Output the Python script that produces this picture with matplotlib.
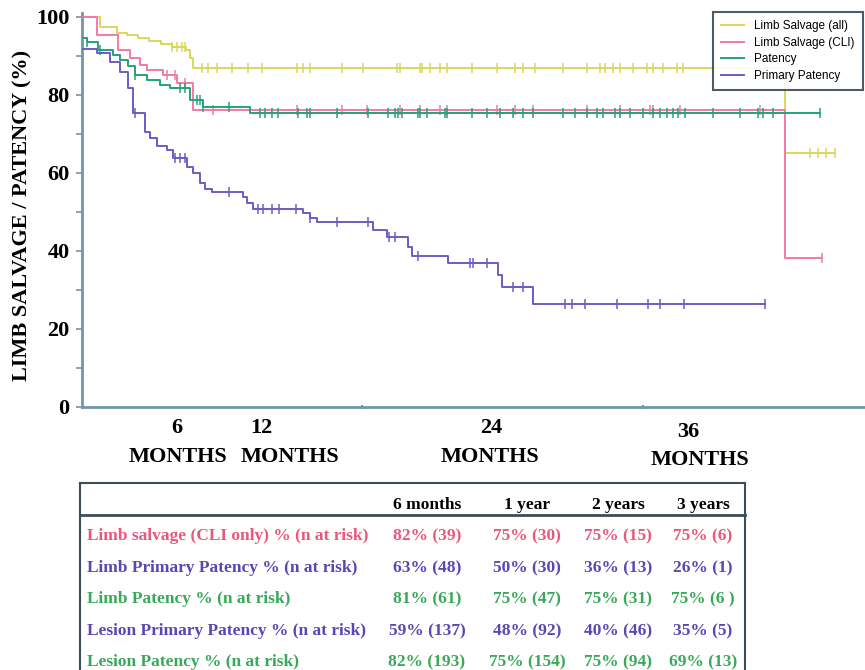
import numpy as np
import matplotlib
matplotlib.use("Agg")
import matplotlib.pyplot as plt
from matplotlib.lines import Line2D

# ---------------- data (x in days, y in %) ----------------
series_names = ["Limb Salvage (all)", "Limb Salvage (CLI)", "Patency", "Primary Patency"]

ls_all_t = [0, 32, 62, 80, 100, 120, 140, 160, 185, 193, 198, 1253]
ls_all_s = [100, 97.4, 96, 95.3, 94.5, 93.8, 93, 92.3, 91.5, 89.5, 86.9, 65]
ls_all_end = 1342
ls_all_cens = [160, 169, 178, 184, 214, 225, 241, 267, 296, 321, 383, 394, 406, 463, 501,
               561, 567, 602, 606, 620, 638, 651, 695, 740, 772, 786, 807, 857, 900, 923,
               932, 947, 959, 982, 1007, 1018, 1036, 1061, 1071, 1298, 1312, 1326, 1342]

ls_cli_t = [0, 27, 64, 86, 103, 116, 144, 169, 198, 1253]
ls_cli_s = [100, 95.4, 91.5, 89.5, 87.7, 86.5, 85, 83, 76.2, 38.2]
ls_cli_end = 1319
ls_cli_cens = [152, 166, 184, 234, 383, 463, 508, 567, 602, 638, 651, 740, 772, 804, 900,
               959, 1012, 1018, 1066, 1209, 1319]

pat_t = [0, 9, 29, 55, 68, 82, 94, 116, 139, 157, 193, 216, 299]
pat_s = [94.6, 93.6, 91.5, 90.3, 89, 87.3, 85.1, 83.8, 82.6, 81.8, 78.7, 76.9, 75.3]
pat_end = 1315
pat_cens = [9, 32, 94, 175, 184, 205, 210, 216, 262, 317, 326, 339, 349, 385, 401, 406,
            455, 510, 545, 558, 563, 570, 599, 602, 615, 647, 651, 695, 722, 745, 768, 786,
            804, 857, 879, 900, 918, 929, 950, 959, 977, 1000, 1018, 1030, 1043, 1053,
            1062, 1075, 1125, 1173, 1205, 1214, 1232, 1315]

pp_t = [0, 27, 50, 68, 82, 91, 112, 121, 134, 152, 162, 187, 198, 210, 219, 232, 287,
        294, 305, 394, 406, 419, 519, 544, 581, 588, 652, 742, 749, 804]
pp_s = [91.8, 90.7, 88.5, 86, 81.8, 75.4, 70.5, 69, 67, 66, 63.8, 61.5, 60, 57.4, 56,
        55.1, 53.8, 52.3, 50.7, 49.7, 48.4, 47.4, 45.4, 43.6, 41, 38.7, 36.9, 33.8,
        30.8, 26.4]
pp_end = 1217
pp_cens = [94, 166, 175, 184, 262, 314, 323, 339, 351, 381, 406, 455, 510, 547, 558,
           599, 692, 697, 722, 768, 786, 861, 873, 897, 954, 1009, 1030, 1073, 1217]

month_ticks = ["6", "12", "24", "36"]

tbl_cols = ["6 months", "1 year", "2 years", "3 years"]
tbl_rows = ["Limb salvage (CLI only) % (n at risk)",
            "Limb Primary Patency % (n at risk)",
            "Limb Patency % (n at risk)",
            "Lesion Primary Patency % (n at risk)",
            "Lesion Patency % (n at risk)"]
tbl_vals = [["82% (39)", "75% (30)", "75% (15)", "75% (6)"],
            ["63% (48)", "50% (30)", "36% (13)", "26% (1)"],
            ["81% (61)", "75% (47)", "75% (31)", "75% (6 )"],
            ["59% (137)", "48% (92)", "40% (46)", "35% (5)"],
            ["82% (193)", "75% (154)", "75% (94)", "69% (13)"]]

# ---------------- styling ----------------
W, H = 865, 670
C_YEL = "#ddd55e"
C_PNK = "#f07aa8"
C_GRN = "#24a27a"
C_PUR = "#6d5cc4"
C_AX = "#6f96aa"
C_BOX = "#3d4d57"
row_colors = ["#e8587e", "#5c46b2", "#3aa85a", "#5c46b2", "#3aa85a"]
SERIF = ["Liberation Serif", "DejaVu Serif"]
SANS = ["Liberation Sans", "DejaVu Sans"]

def F(x, y):
    return x / W, 1 - y / H

fig = plt.figure(figsize=(W / 100, H / 100), dpi=100)
fig.patch.set_facecolor("white")
ax = fig.add_axes([82 / W, 1 - 407 / H, (W - 82) / W, (407 - 13) / H])
ax.set_xlim(0, 1396)
ax.set_ylim(0, 101)


def km(t, s, end, cens, color, label, z):
    tt = list(t) + [end]
    ss = list(s) + [s[-1]]
    ax.step(tt, ss, where="post", color=color, lw=1.4, label=label, zorder=z)
    idx = np.searchsorted(np.array(t), np.array(cens), side="right") - 1
    ax.plot(cens, np.array(s)[idx], ls="none", marker="|", ms=7, mew=1.1,
            color=color, zorder=z)


km(ls_all_t, ls_all_s, ls_all_end, ls_all_cens, C_YEL, series_names[0], 2)
km(ls_cli_t, ls_cli_s, ls_cli_end, ls_cli_cens, C_PNK, series_names[1], 3)
km(pat_t, pat_s, pat_end, pat_cens, C_GRN, series_names[2], 4)
km(pp_t, pp_s, pp_end, pp_cens, C_PUR, series_names[3], 5)

for sp in ["top", "right"]:
    ax.spines[sp].set_visible(False)
for sp in ["left", "bottom"]:
    ax.spines[sp].set_color(C_AX)
    ax.spines[sp].set_linewidth(2)

ax.set_yticks([0, 20, 40, 60, 80, 100])
ax.set_yticks([10, 30, 50, 70, 90], minor=True)
ax.tick_params(axis="y", which="both", length=4, width=1.2, color=C_AX, direction="out")
for lbl in ax.get_yticklabels():
    lbl.set_fontfamily(SERIF)
    lbl.set_fontweight("bold")
    lbl.set_fontsize(16)
ax.tick_params(axis="y", pad=5)
ax.set_xticks([500, 1000])
ax.set_xticklabels([])
ax.tick_params(axis="x", length=3, width=1.5, color=C_AX, direction="inout")

fig.text(*F(22, 215), "LIMB SALVAGE / PATENCY (%)", rotation=90, ha="center", va="center",
         family=SERIF, fontweight="bold", fontsize=16)

leg = ax.legend(loc="upper left", bbox_to_anchor=F(713, 12), bbox_transform=fig.transFigure,
                prop={"family": SANS, "size": 8.5}, handlelength=1.9, handletextpad=0.9,
                borderpad=0.7, labelspacing=0.38, fancybox=False, framealpha=0.92,
                edgecolor=C_BOX, borderaxespad=0)
leg.get_frame().set_linewidth(1.5)
for h in leg.get_lines():
    h.set_linewidth(1.4)

# month labels
num_pos = [(177, 428), (261, 428), (491, 428), (688, 432)]
mon_pos = [(178, 457), (290, 457), (490, 457), (700, 460)]
for lab, (nx, ny), (mx, my) in zip(month_ticks, num_pos, mon_pos):
    fig.text(*F(nx, ny), lab, ha="center", va="center", family=SERIF,
             fontweight="bold", fontsize=16)
    fig.text(*F(mx, my), "MONTHS", ha="center", va="center", family=SERIF,
             fontweight="bold", fontsize=16)

# table
for (x0, y0, x1, y1, lw) in [(80, 483, 745, 483, 1.5), (80, 515, 745, 515, 2.0),
                              (80, 483, 80, 672, 1.5), (745, 483, 745, 672, 1.5)]:
    fig.add_artist(Line2D([x0 / W, x1 / W], [1 - y0 / H, 1 - y1 / H],
                          color=C_BOX, lw=lw, transform=fig.transFigure))

col_x = [427, 527, 618, 703]
row_y = [536, 568, 599, 631, 662]
for cx, c in zip(col_x, tbl_cols):
    fig.text(*F(cx, 505), c, ha="center", va="center", family=SERIF,
             fontweight="bold", fontsize=12.5)
for ry, rlab, vals, col in zip(row_y, tbl_rows, tbl_vals, row_colors):
    fig.text(*F(87, ry), rlab, ha="left", va="center", family=SERIF,
             fontweight="bold", fontsize=12.5, color=col)
    for cx, v in zip(col_x, vals):
        fig.text(*F(cx, ry), v, ha="center", va="center", family=SERIF,
                 fontweight="bold", fontsize=12.5, color=col)

fig.savefig("out.png", dpi=100)
